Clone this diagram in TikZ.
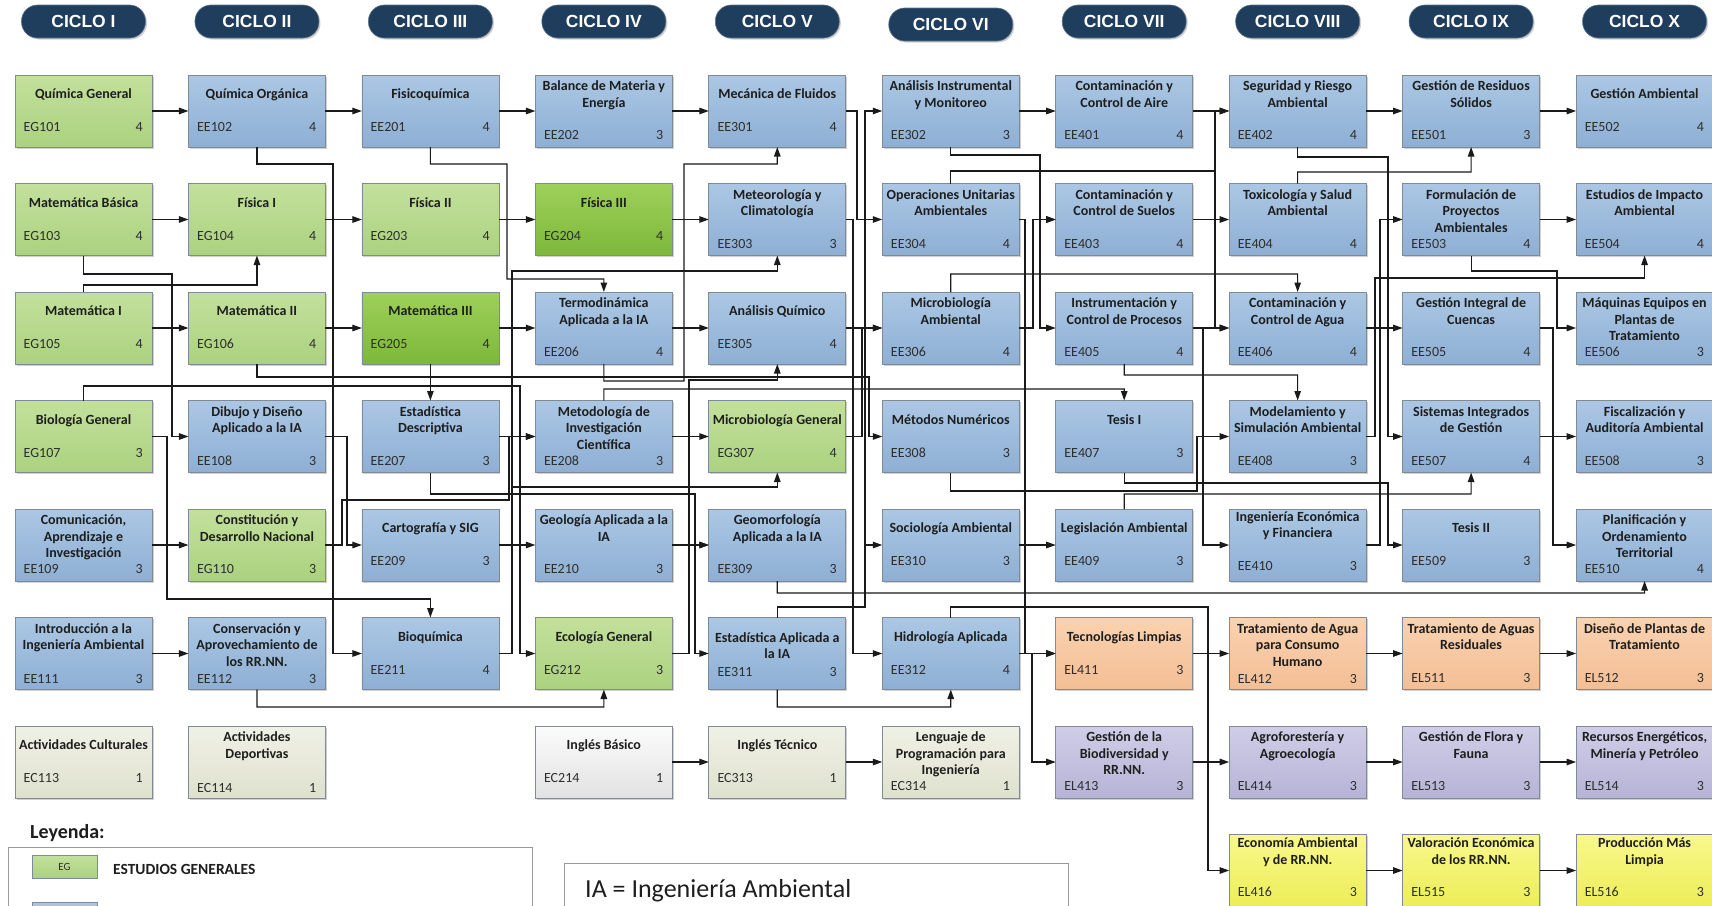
\documentclass[tikz,border=0pt]{standalone}
\usepackage{fontspec}
\setmainfont{Carlito}
\newfontfamily\hdrfont{Liberation Sans}
\usetikzlibrary{arrows.meta,shadows}
\definecolor{navy}{HTML}{1F3D5C}
\definecolor{bordgray}{HTML}{7E8A96}
\definecolor{gtop}{HTML}{C3E09C}
\definecolor{gbot}{HTML}{ABD27F}
\definecolor{dgtop}{HTML}{9ED05A}
\definecolor{dgbot}{HTML}{7DB83A}
\definecolor{btop}{HTML}{ABC7E4}
\definecolor{bbot}{HTML}{8EAFD4}
\definecolor{otop}{HTML}{FAD2B0}
\definecolor{obot}{HTML}{F3BE95}
\definecolor{ptop}{HTML}{D0CDE8}
\definecolor{pbot}{HTML}{B7B3D6}
\definecolor{ytop}{HTML}{F8F88C}
\definecolor{ybot}{HTML}{EDED58}
\definecolor{ctop}{HTML}{F0F1E6}
\definecolor{cbot}{HTML}{DFE1CE}
\definecolor{wtop}{HTML}{FBFBFB}
\definecolor{wbot}{HTML}{E2E2E2}
\definecolor{tcol}{HTML}{1E1E1E}
\definecolor{ccol}{HTML}{2E2E2E}
\definecolor{linecol}{HTML}{1A1A1A}
\tikzset{
  box/.style={draw=bordgray, line width=0.7pt, minimum width=137pt, minimum height=72pt,
    inner sep=0pt, outer sep=0pt,
    drop shadow={shadow xshift=1.5pt, shadow yshift=-1.5pt, opacity=0.3, fill=black!60}},
  cgreen/.style={top color=gtop, bottom color=gbot},
  cdgreen/.style={top color=dgtop, bottom color=dgbot},
  cblue/.style={top color=btop, bottom color=bbot},
  corange/.style={top color=otop, bottom color=obot},
  cpurple/.style={top color=ptop, bottom color=pbot},
  cyellow/.style={top color=ytop, bottom color=ybot},
  cbeige/.style={top color=ctop, bottom color=cbot},
  cwhite/.style={top color=wtop, bottom color=wbot},
  ttl/.style={font=\bfseries\fontsize{14}{16.5}\selectfont, text=tcol, inner sep=0pt, anchor=base},
  cod/.style={font=\fontsize{14}{16}\selectfont, text=ccol, inner sep=0pt},
  pill/.style={fill=navy, draw=navy!70, line width=0.6pt, rounded corners=16pt, minimum width=124pt,
    minimum height=33pt, inner sep=0pt, text=white,
    font=\hdrfont\bfseries\fontsize{17.5}{20}\selectfont,
    drop shadow={shadow xshift=1.5pt, shadow yshift=-1.5pt, opacity=0.3, fill=black!60}},
  arr/.style={draw=linecol, line width=1.15pt, -{Triangle[length=9.5pt,width=6.5pt]}},
}
\def\crsparse#1/#2\relax{\def\tboff{#1}\def\cboff{#2}}
\newcommand\crs[8][23.5/56.5]{%
  \crsparse#1\relax
  \pgfmathsetmacro\cx{83.5+(#3-1)*173.45}%
  \pgfmathsetmacro\ty{75+(#4-1)*108.5}%
  \node[box,#5] (#2) at (\cx,\ty+36) {};
  \node[ttl] (#2t) at (\cx,\ty+\tboff) {\parbox[t]{160pt}{\centering #6}};
  \node[cod,anchor=base west] (#2c) at (\cx-60,\ty+\cboff) {#7};
  \node[cod,anchor=base east] (#2n) at (\cx+59.5,\ty+\cboff) {#8};
}
\begin{document}
\begin{tikzpicture}[x=1pt,y=-1pt]
\useasboundingbox (0,0) rectangle (1712,905);
\fill[white] (0,0) rectangle (1712,905);

% cycle headers
\node[pill] (h1) at (83.5,21.5) {CICLO I};
\node[pill] (h2) at (256.95,21.5) {CICLO II};
\node[pill] (h3) at (430.4,21.5) {CICLO III};
\node[pill] (h4) at (603.85,21.5) {CICLO IV};
\node[pill] (h5) at (777.3,21.5) {CICLO V};
\node[pill] (h6) at (950.75,24.5) {CICLO VI};
\node[pill] (h7) at (1124.2,21.5) {CICLO VII};
\node[pill] (h8) at (1297.65,21.5) {CICLO VIII};
\node[pill] (h9) at (1471.1,21.5) {CICLO IX};
\node[pill] (h10) at (1644.55,21.5) {CICLO X};

% row 1
\crs{eg101}{1}{1}{cgreen}{Química General}{EG101}{4}
\crs{ee102}{2}{1}{cblue}{Química Orgánica}{EE102}{4}
\crs{ee201}{3}{1}{cblue}{Fisicoquímica}{EE201}{4}
\crs[15.5/64.5]{ee202}{4}{1}{cblue}{Balance de Materia y\\Energía}{EE202}{3}
\crs{ee301}{5}{1}{cblue}{Mecánica de Fluidos}{EE301}{4}
\crs[15.5/64.5]{ee302}{6}{1}{cblue}{Análisis Instrumental\\y Monitoreo}{EE302}{3}
\crs[15.5/64.5]{ee401}{7}{1}{cblue}{Contaminación y\\Control de Aire}{EE401}{4}
\crs[15.5/64.5]{ee402}{8}{1}{cblue}{Seguridad y Riesgo\\Ambiental}{EE402}{4}
\crs[15.5/64.5]{ee501}{9}{1}{cblue}{Gestión de Residuos\\Sólidos}{EE501}{3}
\crs{ee502}{10}{1}{cblue}{Gestión Ambiental}{EE502}{4}
% row 2
\crs{eg103}{1}{2}{cgreen}{Matemática Básica}{EG103}{4}
\crs{eg104}{2}{2}{cgreen}{Física I}{EG104}{4}
\crs{eg203}{3}{2}{cgreen}{Física II}{EG203}{4}
\crs{eg204}{4}{2}{cdgreen}{Física III}{EG204}{4}
\crs[15.5/64.5]{ee303}{5}{2}{cblue}{Meteorología y\\Climatología}{EE303}{3}
\crs[15.5/64.5]{ee304}{6}{2}{cblue}{Operaciones Unitarias\\Ambientales}{EE304}{4}
\crs[15.5/64.5]{ee403}{7}{2}{cblue}{Contaminación y\\Control de Suelos}{EE403}{4}
\crs[15.5/64.5]{ee404}{8}{2}{cblue}{Toxicología y Salud\\Ambiental}{EE404}{4}
\crs[15.5/64.5]{ee503}{9}{2}{cblue}{Formulación de\\Proyectos\\Ambientales}{EE503}{4}
\crs[15.5/64.5]{ee504}{10}{2}{cblue}{Estudios de Impacto\\Ambiental}{EE504}{4}
% row 3
\crs{eg105}{1}{3}{cgreen}{Matemática I}{EG105}{4}
\crs{eg106}{2}{3}{cgreen}{Matemática II}{EG106}{4}
\crs{eg205}{3}{3}{cdgreen}{Matemática III}{EG205}{4}
\crs[15.5/64.5]{ee206}{4}{3}{cblue}{Termodinámica\\Aplicada a la IA}{EE206}{4}
\crs{ee305}{5}{3}{cblue}{Análisis Químico}{EE305}{4}
\crs[15.5/64.5]{ee306}{6}{3}{cblue}{Microbiología\\Ambiental}{EE306}{4}
\crs[15.5/64.5]{ee405}{7}{3}{cblue}{Instrumentación y\\Control de Procesos}{EE405}{4}
\crs[15.5/64.5]{ee406}{8}{3}{cblue}{Contaminación y\\Control de Agua}{EE406}{4}
\crs[15.5/64.5]{ee505}{9}{3}{cblue}{Gestión Integral de\\Cuencas}{EE505}{4}
\crs[15.5/64.5]{ee506}{10}{3}{cblue}{Máquinas Equipos en\\Plantas de\\Tratamiento}{EE506}{3}
% row 4
\crs{eg107}{1}{4}{cgreen}{Biología General}{EG107}{3}
\crs[15.5/64.5]{ee108}{2}{4}{cblue}{Dibujo y Diseño\\Aplicado a la IA}{EE108}{3}
\crs[15.5/64.5]{ee207}{3}{4}{cblue}{Estadística\\Descriptiva}{EE207}{3}
\crs[15.5/64.5]{ee208}{4}{4}{cblue}{Metodología de\\Investigación\\Científica}{EE208}{3}
\crs{eg307}{5}{4}{cgreen}{Microbiología General}{EG307}{4}
\crs{ee308}{6}{4}{cblue}{Métodos Numéricos}{EE308}{3}
\crs{ee407}{7}{4}{cblue}{Tesis I}{EE407}{3}
\crs[15.5/64.5]{ee408}{8}{4}{cblue}{Modelamiento y\\Simulación Ambiental}{EE408}{3}
\crs[15.5/64.5]{ee507}{9}{4}{cblue}{Sistemas Integrados\\de Gestión}{EE507}{4}
\crs[15.5/64.5]{ee508}{10}{4}{cblue}{Fiscalización y\\Auditoría Ambiental}{EE508}{3}
% row 5
\crs[15.5/64.5]{ee109}{1}{5}{cblue}{Comunicación,\\Aprendizaje e\\Investigación}{EE109}{3}
\crs[15.5/64.5]{eg110}{2}{5}{cgreen}{Constitución y\\Desarrollo Nacional}{EG110}{3}
\crs{ee209}{3}{5}{cblue}{Cartografía y SIG}{EE209}{3}
\crs[15.5/64.5]{ee210}{4}{5}{cblue}{Geología Aplicada a la\\IA}{EE210}{3}
\crs[15.5/64.5]{ee309}{5}{5}{cblue}{Geomorfología\\Aplicada a la IA}{EE309}{3}
\crs{ee310}{6}{5}{cblue}{Sociología Ambiental}{EE310}{3}
\crs{ee409}{7}{5}{cblue}{Legislación Ambiental}{EE409}{3}
\crs[12/61]{ee410}{8}{5}{cblue}{Ingeniería Económica\\y Financiera}{EE410}{3}
\crs{ee509}{9}{5}{cblue}{Tesis II}{EE509}{3}
\crs[15.5/64.5]{ee510}{10}{5}{cblue}{Planificación y\\Ordenamiento\\Territorial}{EE510}{4}
% row 6
\crs[15.5/66]{ee111}{1}{6}{cblue}{Introducción a la\\Ingeniería Ambiental}{EE111}{3}
\crs[15.5/66]{ee112}{2}{6}{cblue}{Conservación y\\Aprovechamiento de\\los RR.NN.}{EE112}{3}
\crs{ee211}{3}{6}{cblue}{Bioquímica}{EE211}{4}
\crs{eg212}{4}{6}{cgreen}{Ecología General}{EG212}{3}
\crs[24.5/58.5]{ee311}{5}{6}{cblue}{Estadística Aplicada a\\la IA}{EE311}{3}
\crs{ee312}{6}{6}{cblue}{Hidrología Aplicada}{EE312}{4}
\crs{el411}{7}{6}{corange}{Tecnologías Limpias}{EL411}{3}
\crs[15.5/65.5]{el412}{8}{6}{corange}{Tratamiento de Agua\\para Consumo\\Humano}{EL412}{3}
\crs[15.5/64.5]{el511}{9}{6}{corange}{Tratamiento de Aguas\\Residuales}{EL511}{3}
\crs[15.5/64.5]{el512}{10}{6}{corange}{Diseño de Plantas de\\Tratamiento}{EL512}{3}
% row 7
\crs{ec113}{1}{7}{cbeige}{Actividades Culturales}{EC113}{1}
\crs[15.5/66]{ec114}{2}{7}{cbeige}{Actividades\\Deportivas}{EC114}{1}
\crs{ec214}{4}{7}{cwhite}{Inglés Básico}{EC214}{1}
\crs{ec313}{5}{7}{cbeige}{Inglés Técnico}{EC313}{1}
\crs[15.5/64]{ec314}{6}{7}{cbeige}{Lenguaje de\\Programación para\\Ingeniería}{EC314}{1}
\crs[15.5/64]{el413}{7}{7}{cpurple}{Gestión de la\\Biodiversidad y\\RR.NN.}{EL413}{3}
\crs[15.5/64]{el414}{8}{7}{cpurple}{Agroforestería y\\Agroecología}{EL414}{3}
\crs[15.5/64]{el513}{9}{7}{cpurple}{Gestión de Flora y\\Fauna}{EL513}{3}
\crs[15.5/64]{el514}{10}{7}{cpurple}{Recursos Energéticos,\\Minería y Petróleo}{EL514}{3}
% row 8
\crs[13/62]{el416}{8}{8}{cyellow}{Economía Ambiental\\y de RR.NN.}{EL416}{3}
\crs[13/62]{el515}{9}{8}{cyellow}{Valoración Económica\\de los RR.NN.}{EL515}{3}
\crs[13/62]{el516}{10}{8}{cyellow}{Producción Más\\Limpia}{EL516}{3}

% straight connectors
\foreach \a/\b in {eg101/ee102, ee102/ee201, ee201/ee202, ee202/ee301, ee302/ee401, ee401/ee402,
  ee402/ee501, ee501/ee502, eg103/eg104, eg104/eg203, eg203/eg204, eg204/ee303, ee403/ee404,
  ee503/ee504, eg105/eg106, eg106/eg205, eg205/ee206, ee206/ee305, ee305/ee306, ee405/ee406,
  ee406/ee505, ee207/ee208, ee208/eg307, ee507/ee508, ee109/eg110, ee209/ee210, ee210/ee309,
  ee310/ee409, ee111/ee112, ee312/el411, el411/el412, el412/el511, el511/el512, ec214/ec313,
  ec313/ec314, el413/el414, el414/el513, el513/el514, el416/el515, el515/el516}
  {\draw[arr] (\a.east) -- (\b.west);}
\draw[arr] (eg205.south) -- (ee207.north);

% routed connectors
\draw[arr] (ee102.south) |- (333,164) |- (ee211.west);
\draw[arr] (eg103.south) |- (172,274) |- (ee108.west);
\draw[arr] (eg105.north) -- ++(0,-7) -| (eg104.south);
\draw[arr] (eg107.east) -| (167,599) -| (ee211.north);
\draw[arr] (eg107.north) |- (520,386) |- (eg212.west);
\draw[arr] (eg106.south) |- (869,377) |- (ee308.west);
\draw[arr] (ee201.south) |- (507,164) |- (603.85,279) -- (ee206.north);
\draw[arr] (ee211.east) -| (512,271) -| (ee303.south);
\draw[arr] (ee211.east) -| (512,487) -| (eg307.south);
\draw[arr] (ee206.south) |- (684,381) |- (777.3,164) -- (ee301.south);
\draw[arr] (eg212.east) -| (689,380) -| (ee305.south);
\coordinate (j1) at (695,494);
\draw[arr] (ee207.south) |- (j1) |- (ee309.west);
\draw[arr] (j1) |- (ee311.west);
\draw[arr] (ee108.east) -| (347,545) -- (ee209.west);
\draw[arr] (eg110.east) -| (342,500) -| (509,436.5) -- (ee208.west);
\draw[arr] (ee208.north) |- (1124.2,389) -- (ee407.north);
\draw[arr] (ee112.south) |- (603.85,707) -- (eg212.south);
\draw[arr] (ee311.south) |- (950.75,707) -- (ee312.south);
\coordinate (j2) at (865,545);
\draw[arr] (ee311.north) |- (865,607) |- (ee310.west);
\draw[arr] (j2) |- (ee302.west);
\draw[arr] (ee303.east) -| (853,653.5) -- (ee312.west);
\draw[arr] (ee301.east) -| (857,219.5) -- (ee304.west);
\draw[arr] (eg307.east) -| (862,328) -- (ee306.west);
\draw[arr] (ee309.south) |- (1644.55,593) -- (ee510.south);
\coordinate (j4) at (1215,171);
\draw[arr] (ee304.north) |- (j4) |- (ee402.west);
\draw[arr] (j4) |- (ee406.west);
\coordinate (j3) at (1040,219.5);
\draw[arr] (ee302.south) |- (1040,155) |- (ee403.west);
\draw[arr] (j3) |- (ee405.west);
\draw[arr] (ee306.east) -| (1033,219.5) -- (ee403.west);
\draw[arr] (ee304.east) -| (1025,653.5) -- (el411.west);
\draw[arr] (ee312.east) -| (1032,762) -- (el413.west);
\draw[arr] (ee306.north) |- (1297.65,274) -- (ee406.north);
\draw[arr] (ee405.south) |- (1297.65,375) -- (ee408.north);
\draw[arr] (ee308.south) |- (1197,491) |- (ee408.west);
\draw[arr] (ee407.south) |- (1388,483) |- (ee509.west);
\draw[arr] (ee409.north) |- (1471.1,494) -- (ee507.south);
\draw[arr] (ee402.south) |- (1388,157) |- (ee507.west);
\draw[arr] (ee404.north) |- (1471.1,172) -- (ee501.south);
\draw[arr] (ee410.east) -| (1380,219.5) -- (ee503.west);
\draw[arr] (ee408.east) -| (1375,278) -| (ee504.south);
\draw[arr] (ee503.south) |- (1557,271) |- (ee506.west);
\draw[arr] (ee505.east) -| (1553,545) -- (ee510.west);
\draw[arr] (ee405.east) -| (1203,545) -- (ee410.west);
\draw[arr] (ee312.north) |- (1208,607) |- (el416.west);

% legend
\node[font=\bfseries\fontsize{20}{24}\selectfont, text=tcol, anchor=base west, inner sep=0pt] (leyenda) at (30,838) {Leyenda:};
\draw[draw=black!40, line width=0.8pt] (8,847) rectangle (532,960);
\node[draw=bordgray, line width=0.6pt, cgreen, minimum width=65pt, minimum height=23pt, inner sep=0pt,
  font=\fontsize{11}{13}\selectfont, text=ccol] (legEG) at (64.5,866.5) {EG};
\node[font=\bfseries\fontsize{15.5}{18}\selectfont, text=tcol, anchor=west, inner sep=0pt] (legEGt) at (113,869) {ESTUDIOS GENERALES};
\node[draw=bordgray, line width=0.6pt, cblue, minimum width=65pt, minimum height=23pt, inner sep=0pt] (legEE) at (64.5,914) {};
\draw[draw=black!40, line width=0.8pt] (564,863) rectangle (1068,960);
\node[font=\fontsize{26}{30}\selectfont, text=tcol, anchor=base west, inner sep=0pt] (ia) at (585,897) {IA = Ingeniería Ambiental};
\end{tikzpicture}
\end{document}
